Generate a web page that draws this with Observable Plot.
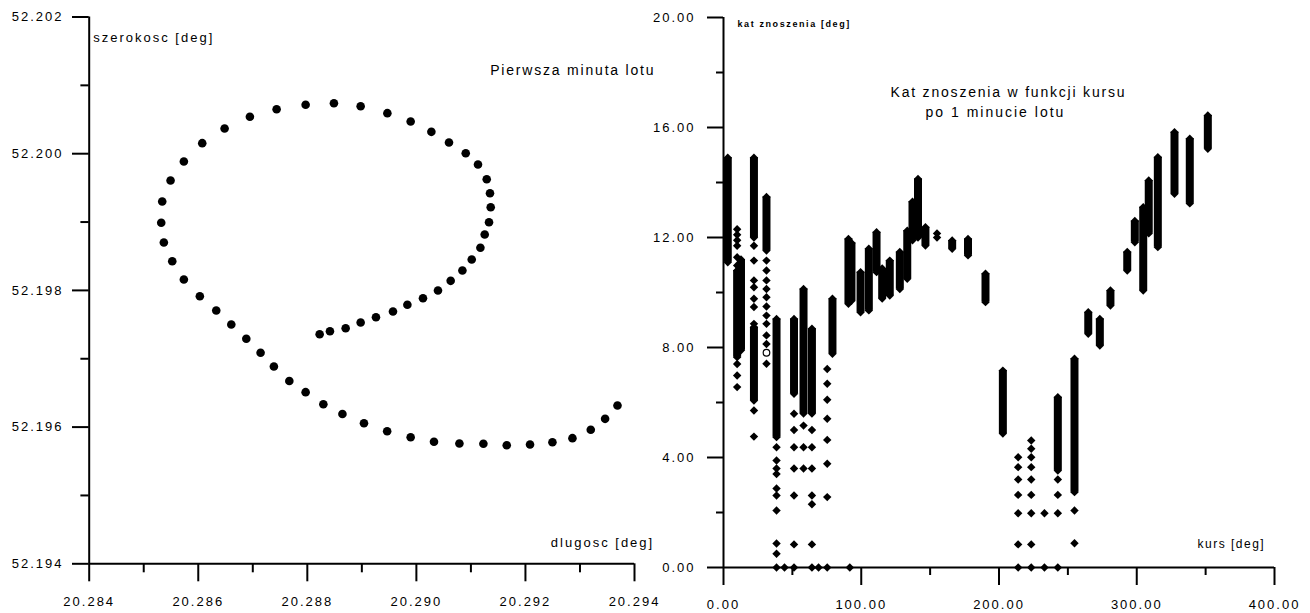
<!DOCTYPE html>
<html><head><meta charset="utf-8">
<script src="https://cdn.jsdelivr.net/npm/d3@7"></script>
<script src="https://cdn.jsdelivr.net/npm/@observablehq/plot@0.6"></script>
<style>
body{margin:0;background:#fff;}
#wrap{position:relative;width:1310px;height:613px;background:#fff;overflow:hidden;}
#left{position:absolute;left:0;top:0;width:670px;height:613px;}
#right{position:absolute;left:653px;top:0;width:657px;height:613px;}
svg text{letter-spacing:2px;}
</style></head><body>
<div id="wrap"><div id="left"></div><div id="right"></div></div>
<script>
// ---- Left panel: position during first minute of flight ----
const lon = [20.288226, 20.288415, 20.288703, 20.288978, 20.289259, 20.289571, 20.289835, 20.290121, 20.290396, 20.290629, 20.290844, 20.291015, 20.291174, 20.291253, 20.291332, 20.291363, 20.291350, 20.291290, 20.291130, 20.290905, 20.290598, 20.290275, 20.289895, 20.289468, 20.288978, 20.288488, 20.287969, 20.287437, 20.286947, 20.286483, 20.286073, 20.285736, 20.285492, 20.285339, 20.285321, 20.285369, 20.285523, 20.285736, 20.286029, 20.286330, 20.286606, 20.286881, 20.287143, 20.287387, 20.287670, 20.287969, 20.288294, 20.288644, 20.289039, 20.289464, 20.289895, 20.290323, 20.290789, 20.291229, 20.291657, 20.292084, 20.292495, 20.292862, 20.293198, 20.293461, 20.293688];
const lat = [52.197359, 52.197403, 52.197447, 52.197530, 52.197608, 52.197691, 52.197789, 52.197886, 52.197999, 52.198140, 52.198291, 52.198452, 52.198625, 52.198818, 52.198998, 52.199217, 52.199422, 52.199627, 52.199842, 52.200007, 52.200164, 52.200320, 52.200471, 52.200593, 52.200695, 52.200739, 52.200716, 52.200651, 52.200540, 52.200369, 52.200154, 52.199886, 52.199608, 52.199301, 52.198989, 52.198701, 52.198427, 52.198160, 52.197915, 52.197706, 52.197501, 52.197292, 52.197087, 52.196887, 52.196674, 52.196511, 52.196335, 52.196192, 52.196057, 52.195940, 52.195852, 52.195785, 52.195760, 52.195756, 52.195735, 52.195745, 52.195779, 52.195838, 52.195961, 52.196121, 52.196316];
const lonMajor = [20.284, 20.286, 20.288, 20.290, 20.292, 20.294];
const lonMinor = [20.285, 20.287, 20.289, 20.291, 20.293];
const latMajor = [52.194, 52.196, 52.198, 52.200, 52.202];
const latMinor = [52.195, 52.197, 52.199, 52.201];

// ---- Right panel: drift angle vs course ----
// dense stacks of points (course, lowest angle, highest angle)
const denseCourse = [3.1, 9.9, 12.7, 22.1, 22.1, 31.2, 38.5, 51.2, 58.1, 64.2, 79.1, 90.7, 92.9, 99.5, 105.5, 111.1, 115.2, 120.7, 128.0, 133.4, 137.2, 141.2, 146.6, 166.0, 177.5, 190.2, 202.8, 242.7, 254.8, 264.8, 273.2, 280.9, 293.1, 298.6, 304.7, 308.7, 315.3, 327.4, 338.5, 351.6];
const denseLow = [11.1, 7.65, 7.9, 12.0, 6.07, 11.53, 4.74, 6.32, 5.6, 5.6, 7.77, 9.59, 9.7, 9.28, 9.35, 10.74, 9.78, 9.89, 10.13, 10.5, 11.9, 12.0, 11.71, 11.59, 11.35, 9.65, 4.87, 3.53, 2.74, 8.5, 8.07, 9.53, 10.8, 11.83, 10.07, 12.15, 11.65, 13.59, 13.24, 15.23];
const denseHigh = [14.9, 10.8, 11.2, 14.9, 8.74, 13.47, 9.04, 9.04, 10.13, 8.68, 9.77, 11.95, 11.8, 10.74, 11.59, 12.19, 10.87, 11.16, 11.47, 12.25, 13.3, 14.13, 12.37, 11.89, 11.95, 10.68, 7.16, 6.19, 7.59, 9.28, 9.04, 10.07, 11.47, 12.6, 13.1, 14.07, 14.92, 15.83, 15.59, 16.44];
// isolated points
const sparseCourse = [9.9, 22.1, 31.2, 38.5, 44.3, 51.2, 58.1, 64.2, 69.0, 75.3, 91.7, 155.0, 213.9, 223.4, 233.0, 242.7, 254.8];
const sparseAngles = [
  [12.3, 12.1, 11.9, 11.7, 11.28, 10.98, 7.4, 6.98, 6.56],
  [11.7, 11.16, 10.44, 10.19, 9.77, 9.47, 8.86, 5.71, 4.76],
  [11.16, 10.8, 10.44, 10.13, 9.83, 9.49, 9.16, 8.86, 8.44, 8.13, 7.41],
  [4.37, 3.89, 3.6, 3.4, 2.87, 2.62, 2.07, 0.87, 0.5, 0],
  [0],
  [5.59, 5.0, 4.37, 3.6, 2.62, 0.84, 0],
  [5.16, 4.37, 3.6],
  [5.0, 4.37, 3.6, 2.62, 2.3, 0.84, 0],
  [0],
  [7.22, 6.68, 6.1, 5.41, 4.64, 3.77, 2.56, 0],
  [0],
  [12.15, 12.0],
  [4.01, 3.65, 3.2, 2.64, 1.97, 0.84, 0],
  [4.62, 4.32, 4.01, 3.65, 3.2, 2.64, 1.97, 0.84, 0],
  [1.97, 0],
  [3.2, 2.64, 1.97, 0],
  [2.07, 0.88]
];
const hollowCourse = [31.2];
const hollowAngle = [7.81];
const courseMajor = [0, 100, 200, 300, 400];
const courseMinor = [50, 150, 250, 350];
const angleMajor = [0, 4, 8, 12, 16, 20];
const angleMinor = [2, 6, 10, 14, 18];

// ---- tables built from the arrays ----
const track = lon.map((x, i) => ({lon: x, lat: lat[i]}));
const dense = denseCourse.map((c, i) => ({course: c, low: denseLow[i], high: denseHigh[i]}));
const sparse = sparseCourse.flatMap((c, i) => sparseAngles[i].map(a => ({course: c, angle: a})));
const hollow = hollowCourse.map((c, i) => ({course: c, angle: hollowAngle[i]}));

const baseStyle = {fontFamily: "'Liberation Sans', Arial, sans-serif", fontSize: "13px", color: "black", background: "white", overflow: "visible"};
const f3 = d3.format(".3f"), f2 = d3.format(".2f");
const blank = () => "";
const label = (t, o) => Plot.text([t], {text: d => d, textAnchor: "start", lineAnchor: "middle", ...o});

const left = Plot.plot({
  width: 670, height: 613,
  marginLeft: 88.7, marginRight: 36, marginTop: 16.5, marginBottom: 49.7,
  x: {domain: [20.284, 20.294]},
  y: {domain: [52.194, 52.202]},
  style: baseStyle,
  marks: [
    Plot.axisY(latMajor, {tickSize: 16.7, tickPadding: 9, tickFormat: f3, strokeWidth: 2, label: null, fontSize: 13}),
    Plot.axisY(latMinor, {tickSize: 8.3, tickFormat: blank, strokeWidth: 2, label: null}),
    Plot.axisX(lonMajor, {tickSize: 18, tickPadding: 15, tickFormat: f3, strokeWidth: 2, label: null, fontSize: 13}),
    Plot.axisX(lonMinor, {tickSize: 9, tickFormat: blank, strokeWidth: 2, label: null}),
    Plot.ruleX([20.284], {strokeWidth: 2}),
    Plot.ruleY([52.194], {strokeWidth: 2}),
    Plot.dot(track, {x: "lon", y: "lat", r: 4.3, fill: "black"}),
    label("szerokosc [deg]", {frameAnchor: "top-left", dx: 4, dy: 21, fontSize: 13}),
    label("Pierwsza minuta lotu", {frameAnchor: "top-left", dx: 401, dy: 53.5, fontSize: 14}),
    label("dlugosc [deg]", {frameAnchor: "bottom-right", dx: 19.7, dy: -20.6, textAnchor: "end", fontSize: 13})
  ]
});

const right = Plot.plot({
  width: 657, height: 613,
  marginLeft: 70, marginRight: 36, marginTop: 17, marginBottom: 46,
  x: {domain: [0, 400]},
  y: {domain: [0, 20]},
  style: {...baseStyle, background: "transparent"},
  marks: [
    Plot.axisY(angleMajor, {tickSize: 16, tickPadding: 12, tickFormat: f2, strokeWidth: 2, label: null, fontSize: 13}),
    Plot.axisY(angleMinor, {tickSize: 7, tickFormat: blank, strokeWidth: 2, label: null}),
    Plot.axisX(courseMajor, {tickSize: 18, tickPadding: 14, tickFormat: f2, strokeWidth: 2, label: null, fontSize: 13}),
    Plot.axisX(courseMinor, {tickSize: 8, tickFormat: blank, strokeWidth: 2, label: null}),
    Plot.ruleX([0], {strokeWidth: 2}),
    Plot.ruleY([0], {strokeWidth: 2}),
    Plot.ruleX(dense, {x: "course", y1: "low", y2: "high", strokeWidth: 8, stroke: "black"}),
    Plot.dot(dense, {x: "course", y: "low", symbol: "diamond2", r: 3.8, fill: "black"}),
    Plot.dot(dense, {x: "course", y: "high", symbol: "diamond2", r: 3.8, fill: "black"}),
    Plot.dot(sparse, {x: "course", y: "angle", symbol: "diamond2", r: 3.8, fill: "black"}),
    Plot.dot(hollow, {x: "course", y: "angle", symbol: "circle", r: 3.3, fill: "white", stroke: "black", strokeWidth: 1.2}),
    label("kat znoszenia [deg]", {frameAnchor: "top-left", dx: 14, dy: 7, fontSize: 9, fontWeight: "bold"}),
    label("Kat znoszenia w funkcji kursu", {frameAnchor: "top-left", dx: 167, dy: 75, fontSize: 14}),
    label("po 1 minucie lotu", {frameAnchor: "top-left", dx: 202, dy: 95, fontSize: 14}),
    label("kurs [deg]", {frameAnchor: "bottom-left", dx: 474, dy: -23, fontSize: 12})
  ]
});

document.getElementById("left").append(left);
document.getElementById("right").append(right);

// fine letter spacing for individual labels
d3.selectAll("svg text").each(function() {
  const t = this.textContent;
  if (t === "kat znoszenia [deg]") this.style.letterSpacing = "1.6px";
  if (t === "kurs [deg]") this.style.letterSpacing = "1.5px";
  if (t === "Kat znoszenia w funkcji kursu") this.style.letterSpacing = "1.8px";
  if (t === "Pierwsza minuta lotu") this.style.letterSpacing = "1.8px";
});
</script>
</body></html>
